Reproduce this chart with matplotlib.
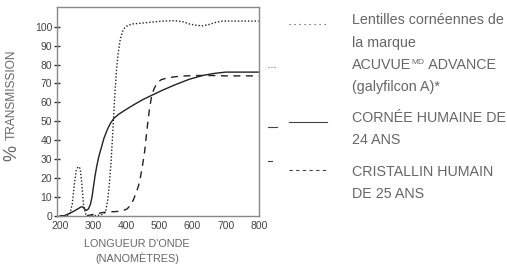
import matplotlib
matplotlib.use("Agg")
import matplotlib.pyplot as plt
from matplotlib.lines import Line2D

plt.rcParams['font.family'] = ['Liberation Sans', 'DejaVu Sans']

# ---- data ----
lens_x = [200, 215, 228, 236, 242, 248, 254, 260, 265, 270, 276, 285, 300, 320, 332, 338, 344, 349, 354, 358, 362, 366, 370, 375, 381, 388, 395, 405, 420, 450, 480, 510, 545, 570, 590, 610, 630, 650, 670, 690, 720, 760, 800]
lens_y = [0, 0, 0.5, 6, 16, 24, 26, 25, 17, 6, 1, 0, 0, 0.3, 1, 3, 9, 18, 30, 42, 55, 67, 77, 86, 93, 97.5, 99.5, 100.8, 101.5, 102, 102.5, 103, 103.2, 102.7, 101.5, 100.8, 100.5, 101.2, 102.3, 103, 103, 103, 103]

cornea_x = [200, 212, 225, 240, 252, 262, 268, 273, 279, 285, 291, 296, 300, 305, 310, 316, 324, 332, 342, 352, 362, 375, 395, 420, 450, 480, 510, 550, 590, 630, 665, 700, 750, 800]
cornea_y = [0, 0, 1, 2.3, 3.5, 4.6, 4.7, 3.6, 2.8, 3.6, 6, 10, 15, 21, 26, 31, 36, 41, 45.5, 49, 51.5, 53.5, 55.8, 58.5, 61.5, 64, 66.5, 69.5, 72.2, 74.2, 75.3, 76, 76, 76]

lens2_x = [280, 295, 310, 325, 345, 370, 390, 402, 412, 420, 428, 436, 443, 449, 455, 460, 465, 470, 476, 483, 492, 505, 525, 550, 580, 620, 660, 700, 750, 800]
lens2_y = [0, 0.5, 1, 1.6, 2, 2.2, 2.7, 3.6, 5.5, 8, 11.5, 15.5, 21, 27, 34, 42, 50, 57, 63, 67, 70, 72, 73, 73.6, 74, 74.2, 74.2, 74, 74, 74]

yticks = [0, 10, 20, 30, 40, 50, 60, 70, 80, 90, 100]
xticks = [200, 300, 400, 500, 600, 700, 800]

legend_lines = [["Lentilles cornéennes de", "la marque", "ACUVUE|MD| ADVANCE", "(galyfilcon A)*"],
                ["CORNÉE HUMAINE DE", "24 ANS"],
                ["CRISTALLIN HUMAIN", "DE 25 ANS"]]

W, H = 507, 267
fig = plt.figure(figsize=(W / 100, H / 100), dpi=100)
ax = fig.add_axes([57 / W, 1 - 215.7 / H, (258.7 - 57) / W, (215.7 - 7.3) / H])

lc = '#222222'
ax.plot(lens_x, lens_y, color=lc, lw=1.0, linestyle=(0, (1, 1.4)))
ax.plot(cornea_x, cornea_y, color=lc, lw=1.0, linestyle='-')
ax.plot(lens2_x, lens2_y, color=lc, lw=1.0, linestyle=(0, (5, 4)))

ax.set_xlim(190, 800)
ax.set_ylim(0, 110.3)
ax.set_yticks(yticks)
ax.set_xticks(xticks)
ax.tick_params(axis='y', direction='inout', length=5, width=1.0, color='#333333',
               labelsize=7.5, labelcolor='#444444', pad=1)
ax.tick_params(axis='x', length=0, labelsize=7.5, labelcolor='#444444', pad=4)
for s in ax.spines.values():
    s.set_color('#888888')
    s.set_linewidth(1.0)

tc = '#666666'
# y label
fig.text(12 / W, 1 - 153 / H, '%', rotation=90, fontsize=13, color=tc, ha='center', va='center')
fig.text(12 / W, 1 - 95 / H, 'TRANSMISSION', rotation=90, fontsize=8.6, color=tc, ha='center', va='center')
# x label
fig.text(137 / W, 1 - 244 / H, "LONGUEUR D'ONDE", fontsize=7.8, color=tc, ha='center', va='center')
fig.text(137 / W, 1 - 258 / H, "(NANOMÈTRES)", fontsize=7.8, color=tc, ha='center', va='center')

# legend
handle_y = [24, 122, 170]
handle_styles = [(0, (1, 3.5)), '-', (0, (3, 3))]
for hy, st in zip(handle_y, handle_styles):
    fig.add_artist(Line2D([289 / W, 327 / W], [1 - hy / H, 1 - hy / H], transform=fig.transFigure,
                          color='#444444', lw=0.8, linestyle=st))
# small stray marks next to the plot
fig.add_artist(Line2D([268 / W, 276 / W], [1 - 66.5 / H] * 2, transform=fig.transFigure,
                      color='#777777', lw=0.8, linestyle=(0, (1, 1.6))))
fig.add_artist(Line2D([268 / W, 277 / W], [1 - 127.5 / H] * 2, transform=fig.transFigure,
                      color='#444444', lw=0.8))
fig.add_artist(Line2D([268 / W, 272 / W], [1 - 161 / H] * 2, transform=fig.transFigure,
                      color='#444444', lw=0.8))

text_y = [[20, 43, 65, 87], [118, 140], [172, 194]]
fs = 10.3
fig.canvas.draw()
renderer = fig.canvas.get_renderer()
for group, ys in zip(legend_lines, text_y):
    for line, yy in zip(group, ys):
        if '|' in line:
            a, sup, b = line.split('|')
            t1 = fig.text(352 / W, 1 - yy / H, a, fontsize=fs, color=tc, ha='left', va='center')
            bb = t1.get_window_extent(renderer)
            x1 = bb.x1 + 0.5
            t2 = fig.text(x1 / W, 1 - (yy - 3) / H, sup, fontsize=6, color=tc, ha='left', va='center')
            bb2 = t2.get_window_extent(renderer)
            fig.text((bb2.x1) / W, 1 - yy / H, b, fontsize=fs, color=tc, ha='left', va='center')
        else:
            fig.text(352 / W, 1 - yy / H, line, fontsize=fs, color=tc, ha='left', va='center')

fig.savefig('out.png', dpi=100)
